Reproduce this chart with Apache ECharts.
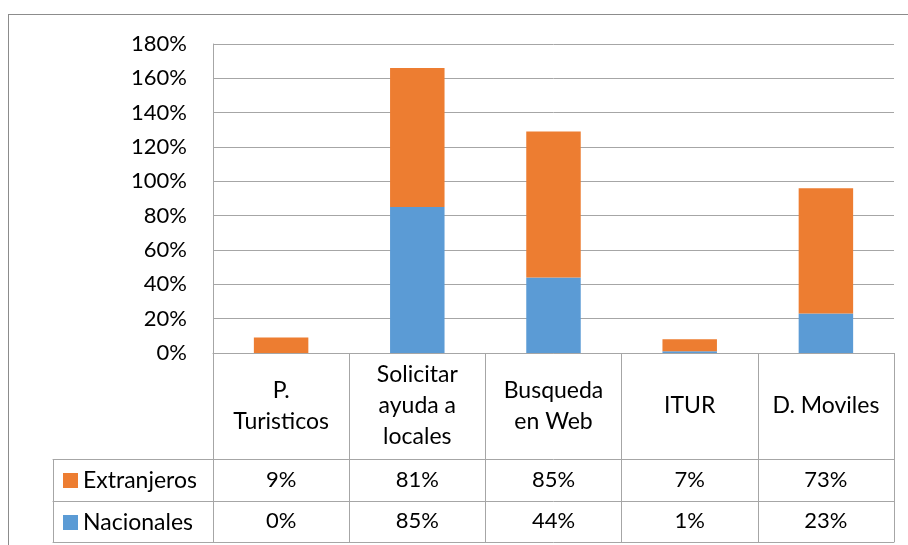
<!DOCTYPE html>
<html>
<head>
<meta charset="utf-8">
<script src="https://cdn.jsdelivr.net/npm/echarts@6/dist/echarts.min.js"></script>
<style>
  body { margin: 0; background: #fff; }
  #wrap { position: relative; width: 908px; height: 545px; overflow: hidden; }
  #frame { position: absolute; left: 8px; top: 14px; width: 1000px; height: 700px;
           border-left: 1px solid #8c8c8c; border-top: 1px solid #8c8c8c; }
  #main { position: absolute; left: 0; top: 0; width: 908px; height: 545px; }
</style>
</head>
<body>
<div id="wrap">
  <div id="frame"></div>
  <div id="main"></div>
</div>
<script>
// datos de la grafica
var categorias = ['P.\nTuristicos', 'Solicitar\nayuda a\nlocales', 'Busqueda\nen Web', 'ITUR', 'D. Moviles'];
var extranjeros = [9, 81, 85, 7, 73];
var nacionales = [0, 85, 44, 1, 23];
var yTicks = [0, 20, 40, 60, 80, 100, 120, 140, 160, 180];

var fuente = 'Lato';
var gris = '#a6a6a6';
var naranja = '#ED7D31';
var azul = '#5B9BD5';

function pct(v) { return v + '%'; }

var chart = echarts.init(document.getElementById('main'));

// filas de la tabla de datos debajo del eje
function filaTabla(datos, offset, alto, margen, tam) {
  return {
    type: 'category',
    gridIndex: 0,
    position: 'bottom',
    offset: offset,
    data: datos,
    axisLine: { show: true, onZero: false, lineStyle: { color: gris, width: 1 } },
    axisTick: { show: alto > 0, length: alto, interval: 0, alignWithLabel: false, lineStyle: { color: gris } },
    axisLabel: { show: true, interval: 0, margin: margen, verticalAlign: 'middle',
                 fontFamily: fuente, fontSize: tam, color: '#000', lineHeight: 31 },
    splitLine: { show: false }
  };
}

// lineas de la columna de la leyenda
function lineaLeyenda(offset, alto) {
  return {
    type: 'category',
    gridIndex: 1,
    position: 'bottom',
    offset: offset,
    data: [''],
    axisLine: { show: true, onZero: false, lineStyle: { color: gris, width: 1 } },
    axisTick: { show: alto > 0, length: alto, interval: 0, lineStyle: { color: gris } },
    axisLabel: { show: false },
    splitLine: { show: false }
  };
}

chart.setOption({
  animation: false,
  textStyle: { fontFamily: fuente },
  legend: {
    data: ['Extranjeros', 'Nacionales'],
    orient: 'vertical',
    left: 63,
    top: 469,
    padding: 0,
    icon: 'rect',
    itemWidth: 15,
    itemHeight: 15,
    itemGap: 19,
    textStyle: { fontFamily: fuente, fontSize: 23, color: '#000', lineHeight: 22 }
  },
  grid: [
    { left: 213, right: 14, top: 44, bottom: 192 },
    { left: 53, width: 160, top: 44, bottom: 192 }
  ],
  xAxis: [
    filaTabla(categorias, 0, 106, 53, 23),
    filaTabla(extranjeros.map(pct), 106, 42, 21, 22),
    filaTabla(nacionales.map(pct), 148, 41, 20, 22),
    filaTabla(['', '', '', '', ''], 189, 0, 0, 22),
    lineaLeyenda(106, 83),
    lineaLeyenda(148, 0),
    lineaLeyenda(189, 0)
  ],
  yAxis: [
    {
      type: 'value',
      gridIndex: 0,
      min: yTicks[0],
      max: yTicks[yTicks.length - 1],
      interval: yTicks[1] - yTicks[0],
      axisLine: { show: true, lineStyle: { color: gris } },
      axisTick: { show: false },
      axisLabel: { formatter: '{value}%', margin: 26, fontFamily: fuente, fontSize: 22, color: '#000' },
      splitLine: { show: true, lineStyle: { color: gris, width: 1 } }
    },
    { type: 'value', gridIndex: 1, min: 0, max: 1, show: false }
  ],
  series: [
    {
      name: 'Nacionales',
      type: 'bar',
      stack: 'total',
      barWidth: '40%',
      xAxisIndex: 0,
      yAxisIndex: 0,
      itemStyle: { color: azul },
      data: nacionales
    },
    {
      name: 'Extranjeros',
      type: 'bar',
      stack: 'total',
      barWidth: '40%',
      xAxisIndex: 0,
      yAxisIndex: 0,
      itemStyle: { color: naranja },
      data: extranjeros
    }
  ]
});
</script>
</body>
</html>
